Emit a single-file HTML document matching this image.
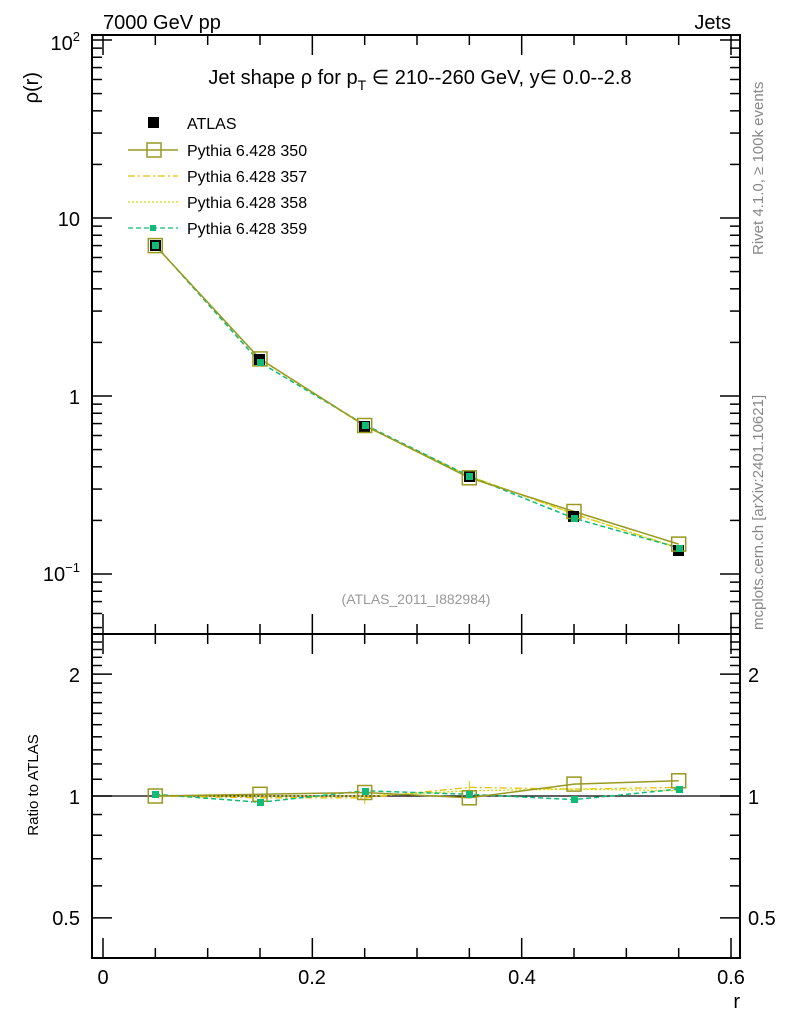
<!DOCTYPE html>
<html><head><meta charset="utf-8"><style>
body{margin:0;background:#fff}
svg{display:block;font-family:"Liberation Sans",sans-serif}
</style></head><body>
<svg id="s" width="786" height="1024" xmlns="http://www.w3.org/2000/svg">
<rect width="786" height="1024" fill="#fff"/>
<g id="ticks" stroke="#000" stroke-width="1.5"></g>
<rect x="92" y="35" width="648" height="599" fill="none" stroke="#000" stroke-width="2"/>
<rect x="92" y="634" width="648" height="324" fill="none" stroke="#000" stroke-width="2"/>
<text x="103" y="29" font-size="20">7000 GeV pp</text>
<text x="731" y="29" font-size="20" text-anchor="end">Jets</text>
<text x="420" y="84" font-size="20" text-anchor="middle">Jet shape ρ for p<tspan font-size="14" dy="6">T</tspan><tspan dy="-6"> ∈ 210--260 GeV, y∈ 0.0--2.8</tspan></text>
<text transform="translate(38,72) rotate(-90)" font-size="20" text-anchor="end">ρ(r)</text>
<text transform="translate(38,785) rotate(-90)" font-size="15" text-anchor="middle">Ratio to ATLAS</text>
<text transform="translate(763,255) rotate(-90)" font-size="15" fill="#888">Rivet 4.1.0, ≥ 100k events</text>
<text transform="translate(763,630) rotate(-90)" font-size="15" fill="#888">mcplots.cern.ch [arXiv:2401.10621]</text>
<text x="416" y="604" font-size="14" fill="#999" text-anchor="middle">(ATLAS_2011_I882984)</text>
<g font-size="20" text-anchor="end">
<text x="80" y="50">10<tspan font-size="13" dy="-9">2</tspan></text>
<text x="80" y="226">10</text>
<text x="80" y="404">1</text>
<text x="80" y="581">10<tspan font-size="13" dy="-9">−1</tspan></text>
<text x="80" y="682">2</text><text x="80" y="804">1</text><text x="80" y="925">0.5</text>
</g>
<g font-size="20"><text x="748" y="682">2</text><text x="748" y="804">1</text><text x="748" y="925">0.5</text></g>
<g font-size="20" text-anchor="middle">
<text x="103" y="984">0</text><text x="312" y="984">0.2</text><text x="522" y="984">0.4</text><text x="731" y="984">0.6</text>
</g>
<text x="740" y="1008" font-size="20" text-anchor="end">r</text>
<g font-size="16">
<rect x="148" y="117" width="11" height="11" fill="#000"/><text x="187" y="129">ATLAS</text>
<line x1="128" y1="150" x2="178" y2="150" stroke="#999922" stroke-width="1.5"/><rect x="147" y="143" width="14" height="14" fill="none" stroke="#999922" stroke-width="1.5"/><text x="187" y="156">Pythia 6.428 350</text>
<line x1="128" y1="176" x2="178" y2="176" stroke="#e5c000" stroke-width="1.3" stroke-dasharray="7,3,2,3"/><text x="187" y="182">Pythia 6.428 357</text>
<line x1="128" y1="202" x2="178" y2="202" stroke="#d8d800" stroke-width="1.3" stroke-dasharray="2,2"/><text x="187" y="208">Pythia 6.428 358</text>
<line x1="128" y1="228" x2="178" y2="228" stroke="#11bb77" stroke-width="1.3" stroke-dasharray="5,3"/><rect x="150" y="225" width="6" height="6" fill="#11bb77"/><text x="187" y="234">Pythia 6.428 359</text>
</g>
<polyline points="155.3,245.6 260,359 364.7,426 469.3,476 574,514 678.7,548" fill="none" stroke="#e5c000" stroke-width="1.3" stroke-dasharray="7,3,2,3"/>
<polyline points="155.3,245.6 260,359 364.7,426 469.3,476 574,514 678.7,548" fill="none" stroke="#d8d800" stroke-width="1.3" stroke-dasharray="2,2"/>
<polyline points="155.3,245 260,362.5 364.7,424.7 469.3,476.2 574,518.3 678.7,547.8" fill="none" stroke="#11bb77" stroke-width="1.5" stroke-dasharray="5,3"/>
<polyline points="155.3,245.6 260,358.9 364.7,425.5 469.3,477.8 574,511.5 678.7,544.1" fill="none" stroke="#999922" stroke-width="1.5"/>
<g fill="#000">
<rect x="150" y="240" width="11" height="11"/><rect x="254" y="354" width="11" height="11"/><rect x="359" y="421" width="11" height="11"/><rect x="464" y="471" width="11" height="11"/><rect x="568" y="511" width="11" height="11"/><rect x="673" y="545" width="11" height="11"/>
</g>
<g fill="none" stroke="#999922" stroke-width="1.5">
<rect x="148.3" y="238.6" width="14" height="14"/><rect x="253" y="351.9" width="14" height="14"/><rect x="357.7" y="418.5" width="14" height="14"/><rect x="462.3" y="470.8" width="14" height="14"/><rect x="567" y="504.5" width="14" height="14"/><rect x="671.7" y="537.1" width="14" height="14"/>
</g>
<g fill="#11bb77">
<rect x="152" y="242" width="7" height="7"/><rect x="257" y="359" width="7" height="7"/><rect x="362" y="422" width="7" height="7"/><rect x="466" y="473" width="7" height="7"/><rect x="571" y="515" width="7" height="7"/><rect x="676" y="545" width="7" height="7"/>
</g>
<line x1="92" y1="796" x2="740" y2="796" stroke="#000" stroke-width="1.3"/>
<polyline points="155.3,796 260,797.8 364.7,797.8 469.3,787.4 574,789.1 678.7,787.4" fill="none" stroke="#e5c000" stroke-width="1.3" stroke-dasharray="7,3,2,3"/>
<polyline points="155.3,796 260,796 364.7,796 469.3,790.8 574,789.1 678.7,790.8" fill="none" stroke="#d8d800" stroke-width="1.3" stroke-dasharray="2,2"/>
<polyline points="155.3,794.3 260,802.3 364.7,790.8 469.3,794.3 574,799.6 678.7,789.1" fill="none" stroke="#11bb77" stroke-width="1.5" stroke-dasharray="5,3"/>
<polyline points="155.3,796 260,794.3 364.7,792.5 469.3,797.8 574,784.1 678.7,780.8" fill="none" stroke="#999922" stroke-width="1.5"/>
<g stroke="#e5c000" stroke-width="1"><line x1="469.3" y1="781" x2="469.3" y2="794"/><line x1="364.7" y1="790" x2="364.7" y2="804"/></g>
<g fill="none" stroke="#999922" stroke-width="1.5">
<rect x="148.3" y="789" width="14" height="14"/><rect x="253" y="787.3" width="14" height="14"/><rect x="357.7" y="785.5" width="14" height="14"/><rect x="462.3" y="790.8" width="14" height="14"/><rect x="567" y="777.1" width="14" height="14"/><rect x="671.7" y="773.8" width="14" height="14"/>
</g>
<g fill="#11bb77">
<rect x="152" y="791" width="7" height="7"/><rect x="257" y="799" width="7" height="7"/><rect x="362" y="788" width="7" height="7"/><rect x="466" y="791" width="7" height="7"/><rect x="571" y="796" width="7" height="7"/><rect x="676" y="786" width="7" height="7"/>
</g>
</svg>
<script>
var g=document.getElementById('ticks'),h='';
function L(a,b,c,d){h+='<line x1="'+a+'" y1="'+b+'" x2="'+c+'" y2="'+d+'"/>';}
for(var e=-2;e<=2;e++)for(var m=1;m<10;m++){var v=m*Math.pow(10,e);var y=396-178*Math.log10(v);if(y<36||y>633)continue;var len=m==1?20:10;L(92,y,92+len,y);L(740,y,740-len,y);}
var rv=[0.4,0.5,0.6,0.7,0.8,0.9,1,1.1,1.2,1.3,1.4,1.5,1.6,1.7,1.8,1.9,2,2.1,2.2,2.3,2.4];
rv.forEach(function(v){var y=796-405*Math.log10(v);if(y<635||y>957)return;var len=(v==0.5||v==1||v==2)?20:10;L(92,y,92+len,y);L(740,y,740-len,y);});
for(var i=0;i<=12;i++){var x=103+i*0.05*1046.7;var len=i%4==0?20:10;L(x,634,x,634-len);L(x,35,x,35+len);L(x,958,x,958-len);L(x,634,x,634+len);}
g.innerHTML=h;
</script>
</body></html>
